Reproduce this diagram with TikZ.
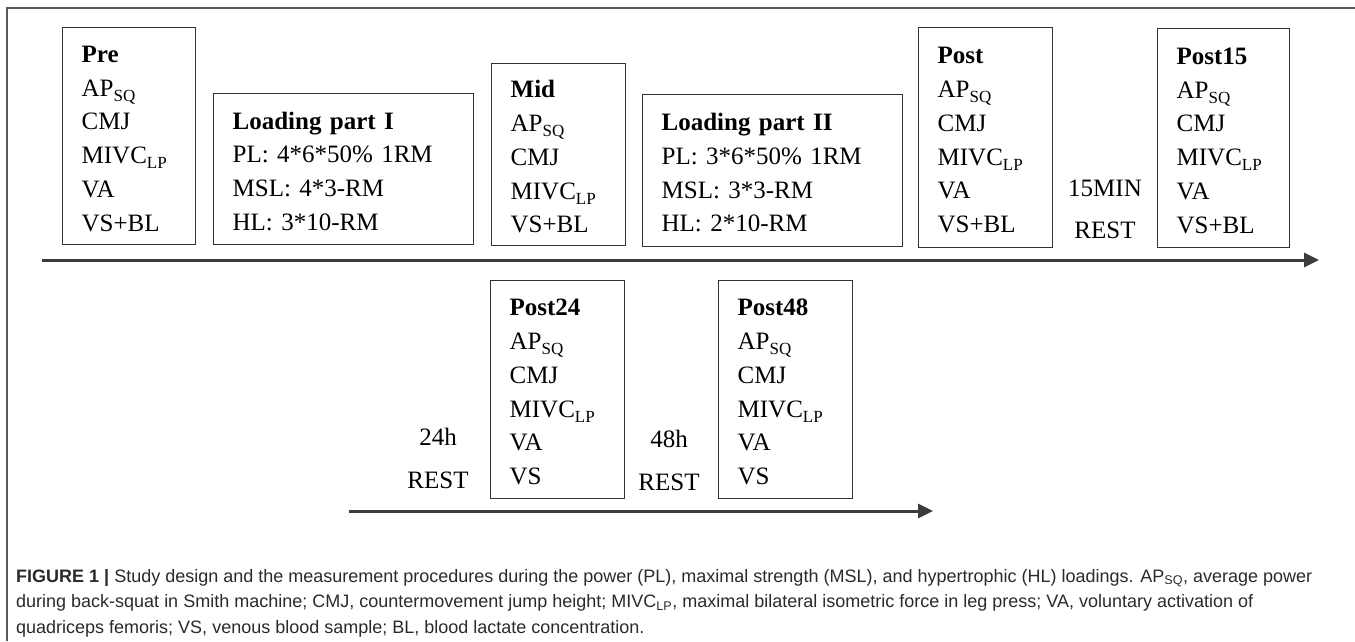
\documentclass[tikz,border=0pt]{standalone}
\usepackage{fontspec}
\setmainfont{Liberation Serif}
\setsansfont{Liberation Sans}
\usetikzlibrary{arrows.meta}
\definecolor{boxline}{HTML}{333333}
\definecolor{arrowline}{HTML}{3C3C3C}
\definecolor{frameline}{HTML}{5A5A5A}
\definecolor{captext}{HTML}{2A2A2A}
\newcommand\subSQ{\raisebox{-5pt}{\fontsize{17}{17}\selectfont SQ}}
\newcommand\subLP{\raisebox{-5pt}{\fontsize{17}{17}\selectfont LP}}
\newcommand\topstrut{\rule{0pt}{21.5pt}}
\tikzset{
  stagebox/.style={draw=boxline, line width=1.3pt, anchor=north west,
    inner xsep=19pt, inner ysep=0pt, align=left,
    font=\fontsize{25}{33.8}\selectfont},
  resttext/.style={anchor=base, inner sep=0pt, font=\fontsize{25}{30}\selectfont},
  timeline/.style={draw=arrowline, line width=3pt,
    -{Triangle[length=15pt,width=14pt]}},
  captionline/.style={anchor=base west, inner sep=0pt, text=captext,
    font=\sffamily\fontsize{18}{22}\selectfont},
}
\begin{document}
\begin{tikzpicture}[x=1pt,y=-1pt]
\useasboundingbox (0,0) rectangle (1355,641);
% outer frame (cropped: top and left edges)
\coordinate (fa) at (7,641);
\coordinate (fb) at (7,8);
\coordinate (fc) at (1355,8);
\draw[frameline, line width=1.2pt] (fa) -- (fb) -- (fc);

% top row
\node[stagebox, minimum width=133pt, minimum height=217pt, text width=95pt] (pre) at (62,27)
  {\topstrut\textbf{Pre}\\AP\subSQ\\CMJ\\MIVC\subLP\\VA\\VS+BL};
\node[stagebox, minimum width=260pt, minimum height=151pt, text width=222pt] (load1) at (213,93)
  {\topstrut\textbf{Loading part I}\\PL: 4*6*50\% 1RM\\MSL: 4*3-RM\\HL: 3*10-RM};
\node[stagebox, minimum width=134pt, minimum height=182pt, text width=96pt] (mid) at (491,63)
  {\topstrut\textbf{Mid}\\AP\subSQ\\CMJ\\MIVC\subLP\\VS+BL};
\node[stagebox, minimum width=260pt, minimum height=152pt, text width=222pt] (load2) at (642,94)
  {\topstrut\textbf{Loading part II}\\PL: 3*6*50\% 1RM\\MSL: 3*3-RM\\HL: 2*10-RM};
\node[stagebox, minimum width=134pt, minimum height=220pt, text width=96pt] (post) at (918,27)
  {\topstrut\textbf{Post}\\AP\subSQ\\CMJ\\MIVC\subLP\\VA\\VS+BL};
\node[resttext] (min15) at (1105,196) {15MIN};
\node[resttext] (rest15) at (1105,238) {REST};
\node[stagebox, minimum width=132pt, minimum height=219pt, text width=94pt] (post15) at (1157,28)
  {\topstrut\textbf{Post15}\\AP\subSQ\\CMJ\\MIVC\subLP\\VA\\VS+BL};

\coordinate (t1s) at (42,260);
\coordinate (t1e) at (1319,260);
\draw[timeline] (t1s) -- (t1e);

% bottom row
\node[resttext] (h24) at (438,445) {24h};
\node[resttext] (rest24) at (438,488) {REST};
\node[stagebox, minimum width=134pt, minimum height=218pt, text width=96pt] (post24) at (490,280)
  {\topstrut\textbf{Post24}\\AP\subSQ\\CMJ\\MIVC\subLP\\VA\\VS};
\node[resttext] (h48) at (669,447) {48h};
\node[resttext] (rest48) at (669,490) {REST};
\node[stagebox, minimum width=134pt, minimum height=218pt, text width=96pt] (post48) at (718,280)
  {\topstrut\textbf{Post48}\\AP\subSQ\\CMJ\\MIVC\subLP\\VA\\VS};

\coordinate (t2s) at (349,511);
\coordinate (t2e) at (933,511);
\draw[timeline] (t2s) -- (t2e);

% caption
\node[captionline] (cap1) at (16,582) {\textbf{FIGURE 1 |} Study design and the measurement procedures during the power (PL), maximal strength (MSL), and hypertrophic (HL) loadings. AP\textsubscript{SQ}, average power};
\node[captionline] (cap2) at (16,607.5) {during back-squat in Smith machine; CMJ, countermovement jump height; MIVC\textsubscript{LP}, maximal bilateral isometric force in leg press; VA, voluntary activation of};
\node[captionline] (cap3) at (16,633) {quadriceps femoris; VS, venous blood sample; BL, blood lactate concentration.};
\end{tikzpicture}
\end{document}
